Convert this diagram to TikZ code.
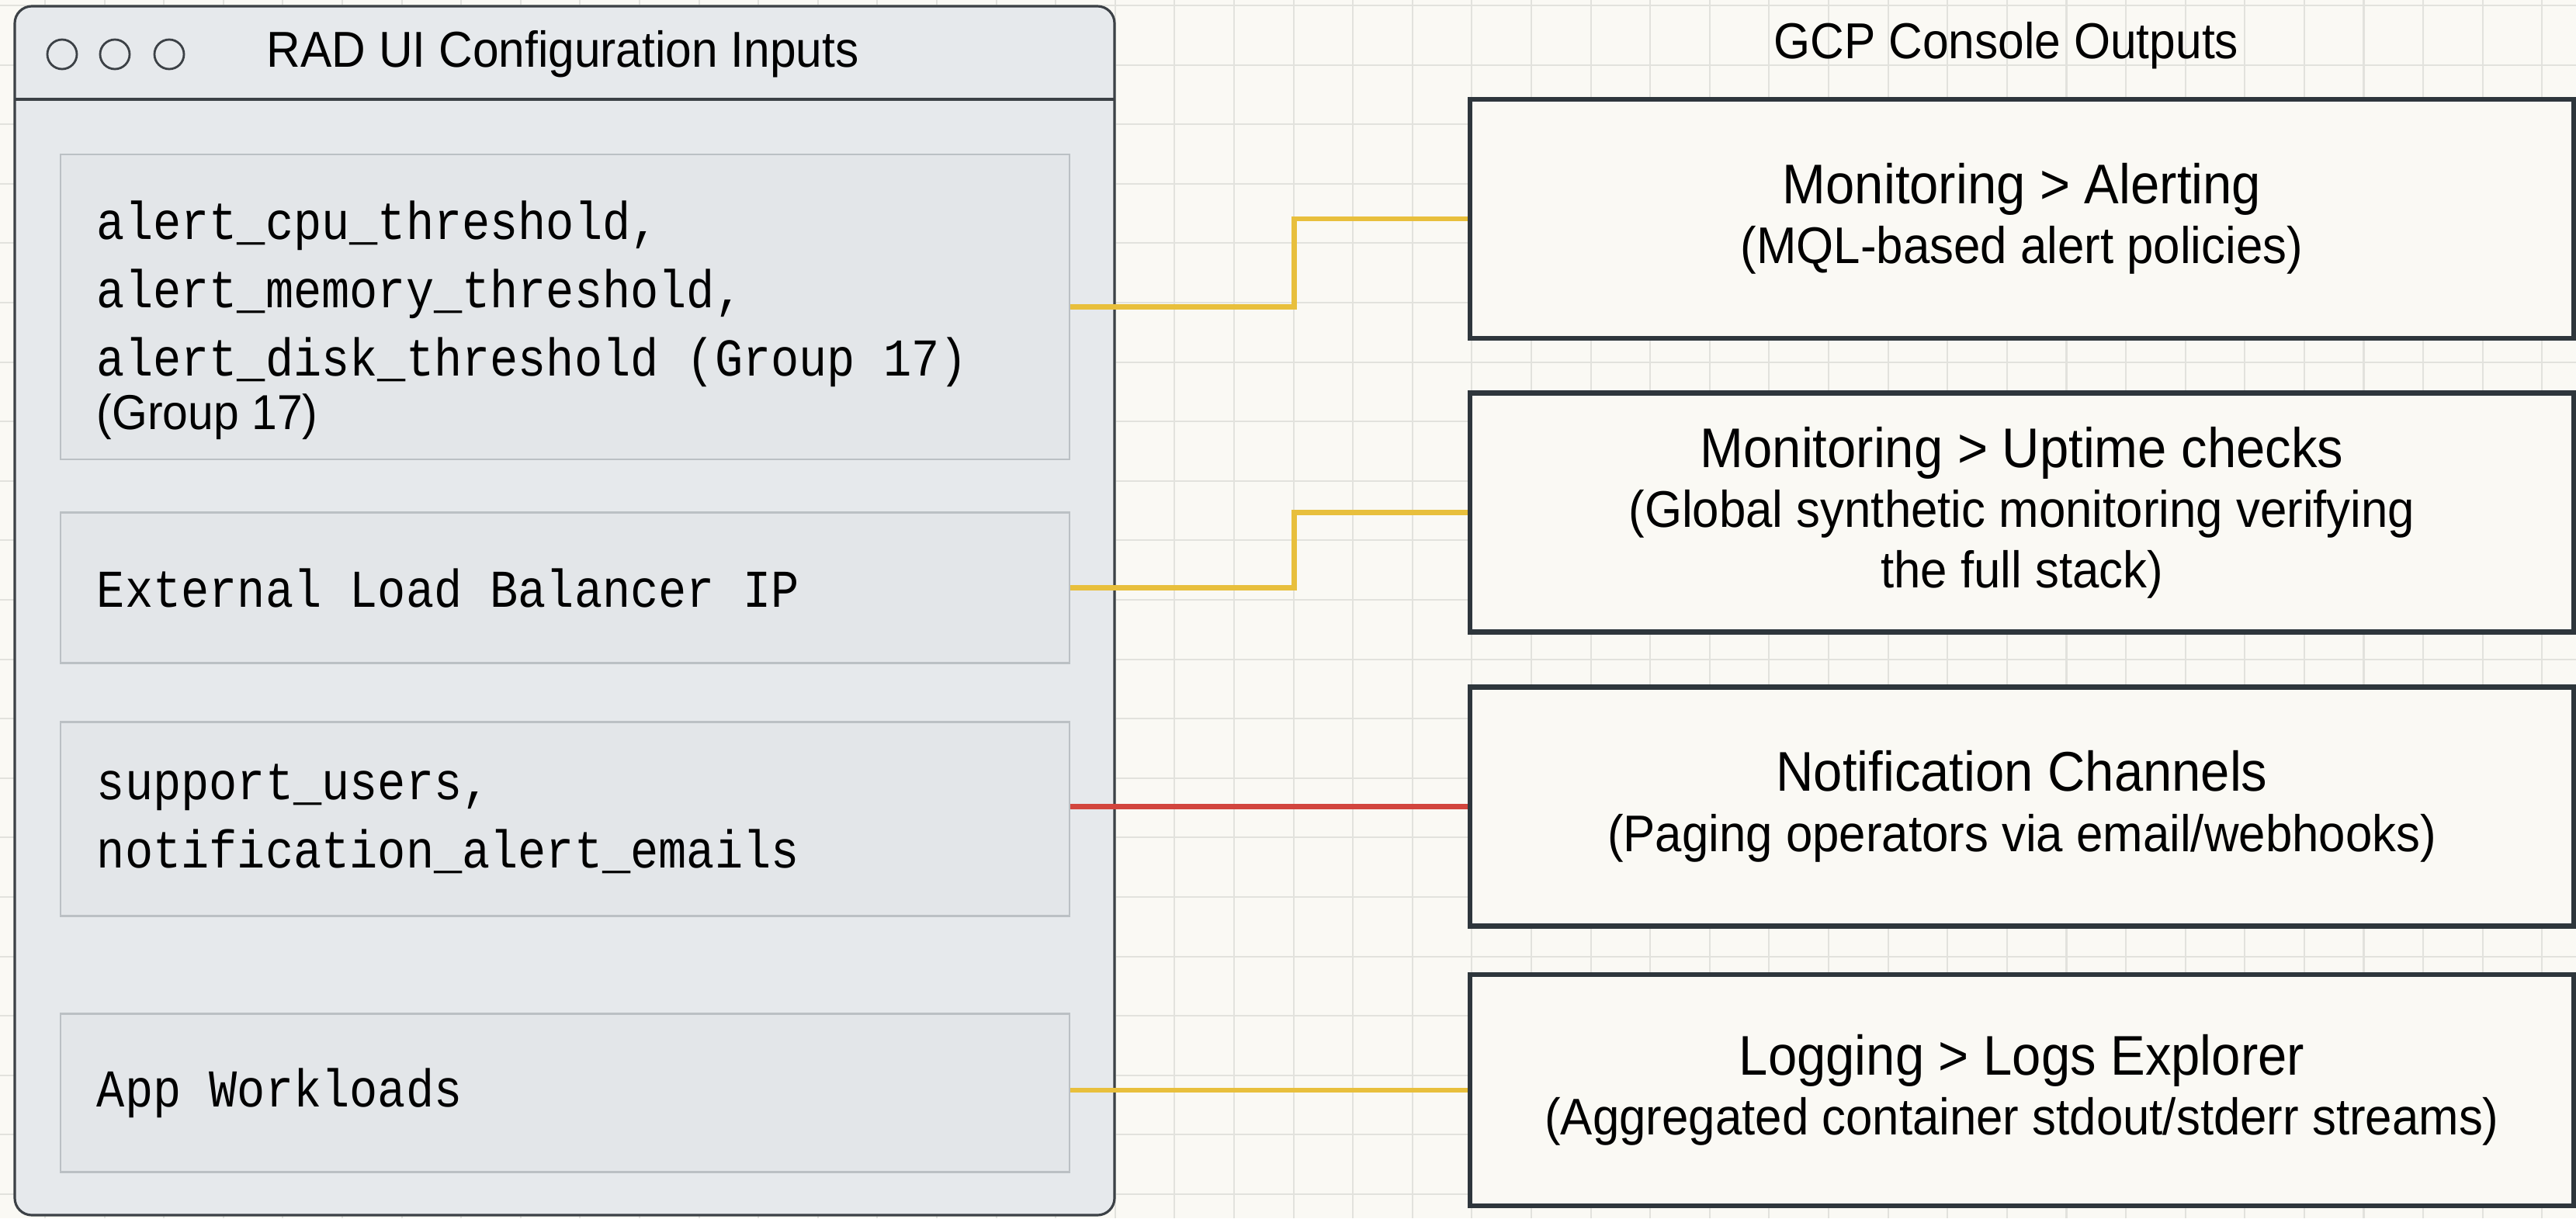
\documentclass[tikz,border=0pt]{standalone}
\usepackage{fontspec}
\setmainfont{Liberation Sans}[FakeStretch=0.93]
\setmonofont{Liberation Mono}[FakeStretch=0.88]
\usetikzlibrary{positioning}

\definecolor{paper}{HTML}{FAF9F4}
\definecolor{gridgray}{HTML}{E2E2DD}
\definecolor{winfill}{HTML}{E6E9EC}
\definecolor{frame}{HTML}{3C4146}
\definecolor{boxfill}{HTML}{E3E6E9}
\definecolor{boxedge}{HTML}{BBC0C4}
\definecolor{outedge}{HTML}{2E363C}
\definecolor{wire}{HTML}{E8BF3C}
\definecolor{alarmred}{HTML}{D2453D}

\newcommand{\headline}[1]{{\fontsize{20.5}{22}\selectfont #1}}
\newcommand{\codespace}{\spaceskip 10.3pt\relax}
\newcommand{\plainfont}{\rmfamily\fontsize{18}{22}\selectfont\spaceskip 0pt\relax}

\begin{document}
\begin{tikzpicture}[node distance=0.64cm, font=\fontsize{18.5}{23}\selectfont,
    inbox/.style={rectangle, draw=boxedge, fill=boxfill, line width=0.8pt, text width=12.06cm, inner xsep=0.47cm, align=left, font=\ttfamily\fontsize{19.5}{25}\selectfont, execute at begin node=\codespace},
    outbox/.style={rectangle, draw=outedge, fill=paper, line width=1.9pt, minimum width=14.22cm, minimum height=3.08cm, align=center, font=\fontsize{18.9}{22}\selectfont},
    feed/.style={draw=wire, line width=1.9pt},
    alarm/.style={draw=alarmred, line width=1.9pt}]
        \useasboundingbox (0,0) rectangle (33.19,-15.70);
        \fill[paper] (0,0) rectangle (33.19,-15.70);
        \begin{scope}[shift={(0.58,-0.07)}]
            \draw[gridgray, line width=0.6pt, step=0.766] (-0.58,0.07) grid (32.61,-15.63);
        \end{scope}

        % input window
        \draw[frame, fill=winfill, line width=0.9pt, rounded corners=0.22cm] (0.19,-0.08) rectangle (14.36,-15.66);
        \draw[frame, line width=0.9pt] (0.19,-1.28) -- (14.36,-1.28);
        \foreach \x in {0.80,1.48,2.18}
            \draw[frame, line width=0.8pt] (\x,-0.70) circle (0.19);
        \node (wintitle) [anchor=west, inner sep=0pt] at (3.43,-0.70) {RAD UI Configuration Inputs};

        \node (in1) [inbox, minimum height=3.93cm] at (7.28,-3.955) {\rule{0pt}{0.84cm}alert\_cpu\_threshold,\\alert\_memory\_threshold,\\alert\_disk\_threshold (Group 17)\\[-5.5pt]{\plainfont (Group 17)}};
        \node (in2) [inbox, minimum height=1.94cm, below=0.66cm of in1] {External Load Balancer IP};
        \node (in3) [inbox, minimum height=2.5cm, below=0.73cm of in2] {support\_users,\\notification\_alert\_emails};
        \node (in4) [inbox, minimum height=2.04cm, below=1.23cm of in3] {App Workloads};

        % console side
        \node (outtitle) at (25.85,-0.59) {GCP Console Outputs};
        \node (out1) [outbox] at (26.05,-2.82) {\headline{Monitoring > Alerting}\\(MQL-based alert policies)};
        \node (out2) [outbox, below=of out1] {\headline{Monitoring > Uptime checks}\\(Global synthetic monitoring verifying\\the full stack)};
        \node (out3) [outbox, below=of out2] {\headline{Notification Channels}\\(Paging operators via email/webhooks)};
        \node (out4) [outbox, minimum height=2.98cm, below=0.56cm of out3] {\headline{Logging > Logs Explorer}\\(Aggregated container stdout/stderr streams)};

        \draw[feed] (in1.east) -- ++(2.88,0) |- (out1.west);
        \draw[feed] (in2.east) -- ++(2.88,0) |- (out2.west);
        \draw[alarm] (in3.east |- out3.west) -- (out3.west);
        \draw[feed] (in4.east |- out4.west) -- (out4.west);
    \end{tikzpicture}
\end{document}
